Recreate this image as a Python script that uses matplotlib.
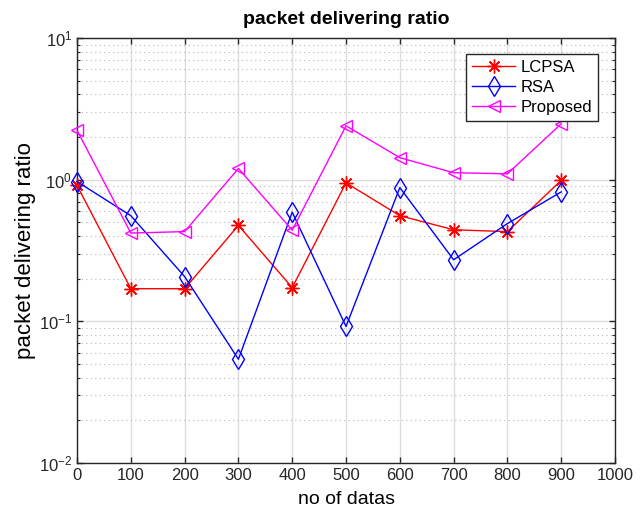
import numpy as np
import matplotlib
matplotlib.use('Agg')
import matplotlib.pyplot as plt
from matplotlib.ticker import LogLocator, MultipleLocator, NullFormatter

plt.rcParams['font.family'] = ['Liberation Sans', 'DejaVu Sans']

n_data = [0, 100, 200, 300, 400, 500, 600, 700, 800, 900]
lcpsa = [0.91, 0.17, 0.17, 0.476, 0.173, 0.95, 0.557, 0.443, 0.43, 0.99]
rsa = [0.97, 0.557, 0.207, 0.054, 0.59, 0.092, 0.88, 0.272, 0.49, 0.82]
proposed = [2.23, 0.42, 0.43, 1.2, 0.44, 2.4, 1.43, 1.12, 1.10, 2.48]

fig = plt.figure(figsize=(6.44, 5.16), dpi=100, facecolor='w')
ax = fig.add_axes([0.1196, 0.1027, 0.8354, 0.8236])

# asterisk marker like matlab's '*'
star = (8, 2, 0)
ax.plot(n_data, lcpsa, '-', marker=star, color='#ff0000', lw=1.0, ms=10, mew=1.0,
        label='LCPSA', clip_on=False, zorder=3)
ax.plot(n_data, rsa, '-d', color='#0000ff', lw=1.0, ms=10, mfc='none', mew=1.0,
        label='RSA', clip_on=False, zorder=3)
ax.plot(n_data, proposed, '-<', color='#ff00ff', lw=1.0, ms=9, mfc='none', mew=1.0,
        label='Proposed', clip_on=False, zorder=3)

ax.set_yscale('log')
ax.set_xlim(0, 1000)
ax.set_ylim(1e-2, 1e1)
ax.xaxis.set_major_locator(MultipleLocator(100))
ax.yaxis.set_major_locator(LogLocator(base=10, numticks=10))
ax.yaxis.set_minor_locator(LogLocator(base=10, subs=np.arange(2, 10), numticks=10))
ax.yaxis.set_minor_formatter(NullFormatter())

# grid: solid majors, dotted minors on y
ax.grid(True, which='major', color='#dcdcdc', lw=1.0, ls='-')
ax.grid(True, which='minor', axis='y', color='#b8b8b8', lw=0.8, ls=(0, (1, 3)))
ax.set_axisbelow(True)

ax.tick_params(which='both', direction='in', top=True, right=True, labelsize=12, colors='#262626')
ax.tick_params(which='major', length=4, width=1)
ax.tick_params(which='minor', length=2, width=0.8)
for s in ax.spines.values():
    s.set_color('#262626')
    s.set_linewidth(1.0)

ax.set_title('packet delivering ratio', fontsize=14, fontweight='bold', pad=10)
ax.set_xlabel('no of datas', fontsize=14, labelpad=6)
ax.set_ylabel('packet delivering ratio', fontsize=16, labelpad=2)

leg = ax.legend(loc='upper right', fontsize=12, fancybox=False, framealpha=1,
                edgecolor='#262626', handlelength=2.6, borderpad=0.35,
                labelspacing=0.3, handletextpad=0.3, borderaxespad=0,
                bbox_to_anchor=(0.968, 0.962))
leg.get_frame().set_linewidth(1.0)

plt.savefig('out.png', dpi=100)
